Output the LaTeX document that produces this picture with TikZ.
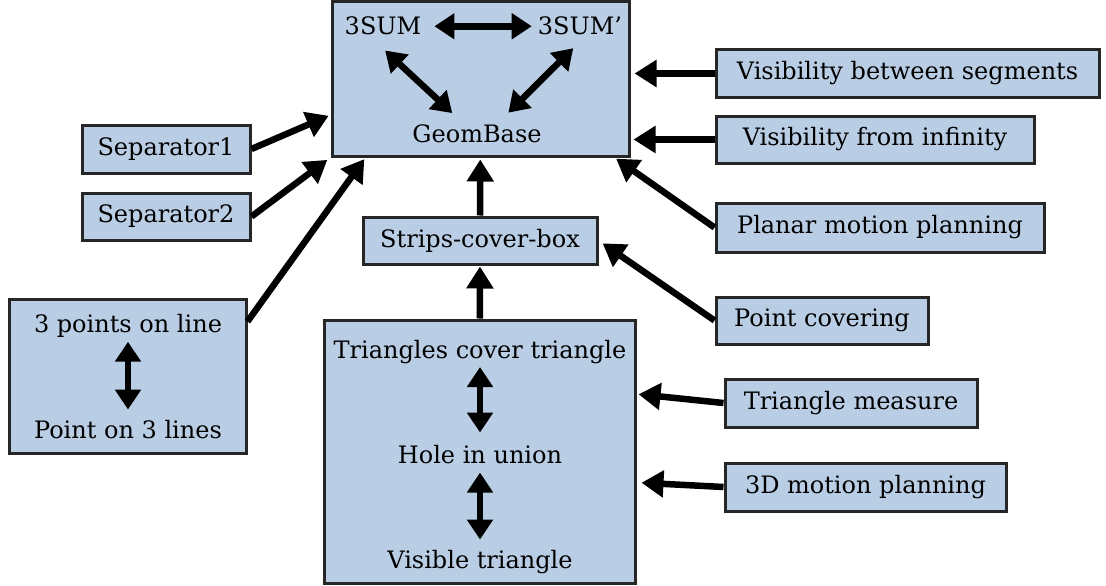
\documentclass[tikz,border=0pt]{standalone}
\usepackage{fontspec}
\setmainfont{DejaVu Serif}
\usetikzlibrary{arrows.meta}
\definecolor{boxblue}{RGB}{185,205,228}

\begin{document}
\begin{tikzpicture}[x=1pt,y=-1pt,
    every node/.style={font=\fontsize{24}{28}\selectfont},
    box/.style={draw=black!85,line width=3pt,fill=boxblue,inner sep=0pt},
    lbl/.style={inner sep=0pt,anchor=base},
    link/.style={line width=6.5pt,-{Triangle[length=22pt,width=26pt]}},
    both/.style={line width=6.5pt,{Triangle[length=20pt,width=25pt]}-{Triangle[length=20pt,width=25pt]}}]
    \useasboundingbox (0,0) rectangle (1106,586) ;

    % big boxes
    \node[box,minimum width=297pt,minimum height=154pt] (geom) at (480.5,79) {} ;
    \node[box,minimum width=237pt,minimum height=154pt] (pts) at (127.5,376) {} ;
    \node[box,minimum width=311pt,minimum height=263pt] (tri) at (479.5,451.5) {} ;

    % small boxes
    \node[box,minimum width=168pt,minimum height=48pt] (sep1) at (166,149) {Separator1} ;
    \node[box,minimum width=168pt,minimum height=47pt] (sep2) at (166,216.5) {Separator2} ;
    \node[box,minimum width=234pt,minimum height=47pt] (strips) at (480,240.5) {Strips-cover-box} ;
    \node[box,minimum width=383pt,minimum height=47pt] (visseg) at (907.5,73.5) {Visibility between segments} ;
    \node[box,minimum width=318pt,minimum height=47pt] (visinf) at (875,139.5) {Visibility from infinity} ;
    \node[box,minimum width=328pt,minimum height=49pt] (planar) at (880,227.5) {Planar motion planning} ;
    \node[box,minimum width=212pt,minimum height=47pt] (ptcov) at (822,320.5) {Point covering} ;
    \node[box,minimum width=252pt,minimum height=48pt] (trimeas) at (851,403) {Triangle measure} ;
    \node[box,minimum width=281pt,minimum height=48pt] (motion) at (865.5,487) {3D motion planning} ;

    % texts inside the big boxes
    \node[lbl] (sum) at (383,35) {3SUM} ;
    \node[lbl] (sump) at (580,35) {3SUM’} ;
    \node[lbl] (gb) at (477,142) {GeomBase} ;
    \node[lbl] (ptl) at (128,332) {3 points on line} ;
    \node[lbl] (pol) at (128,438) {Point on 3 lines} ;
    \node[lbl] (tct) at (480,358) {Triangles cover triangle} ;
    \node[lbl] (hiu) at (480,463) {Hole in union} ;
    \node[lbl] (vt) at (480,568) {Visible triangle} ;

    % equivalences
    \draw[both,shorten <=13pt,shorten >=6pt] (sum.east) -- (sump.west) ;
    \draw[both,shorten <=22pt,shorten >=16pt] ([xshift=-14pt]sum.south) -- ([xshift=-13pt]gb.north) ;
    \draw[both,shorten <=18pt,shorten >=16pt] ([xshift=6pt]sump.south) -- ([xshift=20pt]gb.north) ;
    \draw[both,shorten <=4.5pt,shorten >=10pt] (ptl.south) -- (pol.north) ;
    \draw[both,shorten <=3.5pt,shorten >=12pt] (tct.south) -- (hiu.north) ;
    \draw[both,shorten <=9pt,shorten >=10pt] (hiu.south) -- (vt.north) ;

    % reductions
    \draw[link,shorten >=2pt] (sep1.east) -- ([yshift=-36pt]geom.west) ;
    \draw[link,shorten >=4pt] (sep2.east) -- (geom.south west) ;
    \draw[link,shorten >=2pt] ([yshift=-24pt]pts.north east) -- ([xshift=35pt]geom.south west) ;
    \draw[link,shorten >=2pt] (strips) -- (geom) ;
    \draw[link,shorten >=1pt] (tri) -- (strips) ;
    \draw[link,shorten >=4pt] (visseg.west) -- (visseg.west -| geom.east) ;
    \draw[link,shorten >=3pt] (visinf.west) -- (visinf.west -| geom.east) ;
    \draw[link,shorten >=2pt] (planar.west) -- ([xshift=-16pt]geom.south east) ;
    \draw[link,shorten >=5pt] (ptcov.west) -- (strips.east) ;
    \draw[link,shorten >=2pt] (trimeas.west) -- ([yshift=57.5pt]tri.east) ;
    \draw[link,shorten >=5pt] (motion.west) -- ([yshift=-31pt]tri.east) ;

  \end{tikzpicture}
\end{document}
